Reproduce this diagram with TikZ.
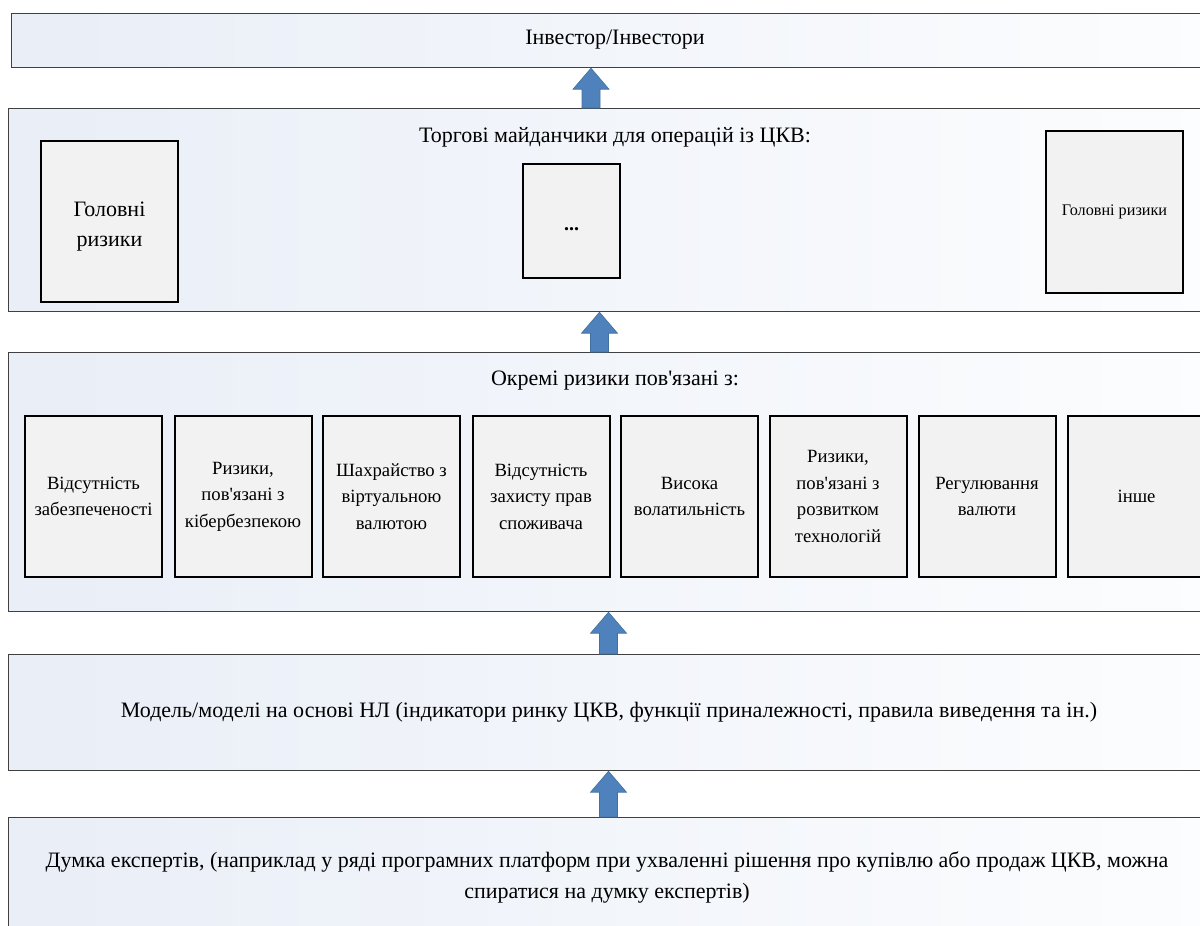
\documentclass[tikz,border=0pt]{standalone}
\usepackage{fontspec}
\setmainfont{Liberation Serif}
\usetikzlibrary{calc}

\definecolor{panelA}{HTML}{E9EEF7}
\definecolor{panelB}{HTML}{FCFDFE}
\definecolor{panelline}{HTML}{404040}
\definecolor{cellfill}{HTML}{F2F2F2}
\definecolor{arrowblue}{HTML}{4F81BD}
\definecolor{arrowedge}{HTML}{41719C}

\tikzset{
  panel/.style={rectangle, draw=panelline, line width=1.2pt,
    left color=panelA, right color=panelB, inner sep=0pt, anchor=north west},
  cell/.style={rectangle, draw=black, line width=2pt, fill=cellfill,
    inner sep=0pt, align=center, font=\fontsize{18.7}{26.5}\selectfont},
  rowcell/.style={cell, minimum width=137pt, minimum height=161pt},
  celltext/.style={inner sep=0pt, align=center},
  heading/.style={inner sep=0pt, align=center, font=\fontsize{22}{31}\selectfont},
  blk/.style={fill=arrowblue, draw=arrowedge, line width=0.6pt},
}

% upward block arrow from the top of one panel to the bottom of the next
\newcommand\upblock[3]{%
  \path[blk] let \p1=(#2.north), \p2=(#3.south) in
    (#1pt-9pt,\y1) -- (#1pt-9pt,\y2-21pt) -- (#1pt-18pt,\y2-21pt)
    -- (#1pt,\y2) -- (#1pt+18pt,\y2-21pt) -- (#1pt+9pt,\y2-21pt)
    -- (#1pt+9pt,\y1) -- cycle;}

\begin{document}
\begin{tikzpicture}[x=1pt,y=-1pt]
\useasboundingbox (0,0) rectangle (1200,926);
\clip (0,0) rectangle (1200,926);

% panels
\node[panel, minimum width=1208pt, minimum height=54pt]  (inv)    at (11,13)  {};
\node[panel, minimum width=1214pt, minimum height=203pt] (market) at (8,108)  {};
\node[panel, minimum width=1214pt, minimum height=259pt] (risks)  at (8,352)  {};
\node[panel, minimum width=1214pt, minimum height=116pt] (model)  at (8,654)  {};
\node[panel, minimum width=1214pt, minimum height=140pt] (expert) at (8,817)  {};

% panel headings
\node[heading] (invT)    at (615,40)  {Інвестор/Інвестори};
\node[heading] (marketT) at (615,137) {Торгові майданчики для операцій із ЦКВ:};
\node[heading] (risksT)  at (615,381) {Окремі ризики пов\textquotesingle язані з:};
\node[heading] (modelT)  at (609,712) {Модель/моделі на основі НЛ (індикатори ринку ЦКВ, функції приналежності, правила виведення та ін.)};
\node[heading] (expertT) at (607,877)
  {Думка експертів, (наприклад у ряді програмних платформ при ухваленні рішення про купівлю або продаж ЦКВ, можна\\спиратися на думку експертів)};

% trading platforms
\node[cell, minimum width=137pt, minimum height=161pt] (m1) at (109.5,221.5) {};
\node[celltext, font=\fontsize{22}{30}\selectfont] (m1T) at ($(m1)+(0,5)$) {Головні\\ризики};
\node[cell, minimum width=97pt, minimum height=114pt]  (m2) at (571.5,221) {};
\node[celltext, font=\fontsize{20}{20}\selectfont] (m2T) at ($(m2)+(0,8)$) {\textbf{...}};
\node[cell, minimum width=137pt, minimum height=162pt, font=\fontsize{16.2}{20}\selectfont]
  (m3) at (1114.5,212) {Головні ризики};

% individual risks
\node[rowcell] (r1) at (93.5,496.5)   {Відсутність\\забезпеченості};
\node[rowcell] (r2) at (243,496.5)    {Ризики,\\пов\textquotesingle язані з\\кібербезпекою};
\node[rowcell] (r3) at (391.5,496.5)  {Шахрайство з\\віртуальною\\валютою};
\node[rowcell] (r4) at (541,496.5)    {Відсутність\\захисту прав\\споживача};
\node[rowcell] (r5) at (689.5,496.5)  {Висока\\волатильність};
\node[rowcell] (r6) at (838,496.5)    {Ризики,\\пов\textquotesingle язані з\\розвитком\\технологій};
\node[rowcell] (r7) at (987,496.5)    {Регулювання\\валюти};
\node[rowcell] (r8) at (1136.5,496.5) {інше};

% arrows
\upblock{591}{market}{inv}
\upblock{599.5}{risks}{market}
\upblock{608.5}{model}{risks}
\upblock{608.5}{expert}{model}
\end{tikzpicture}
\end{document}
